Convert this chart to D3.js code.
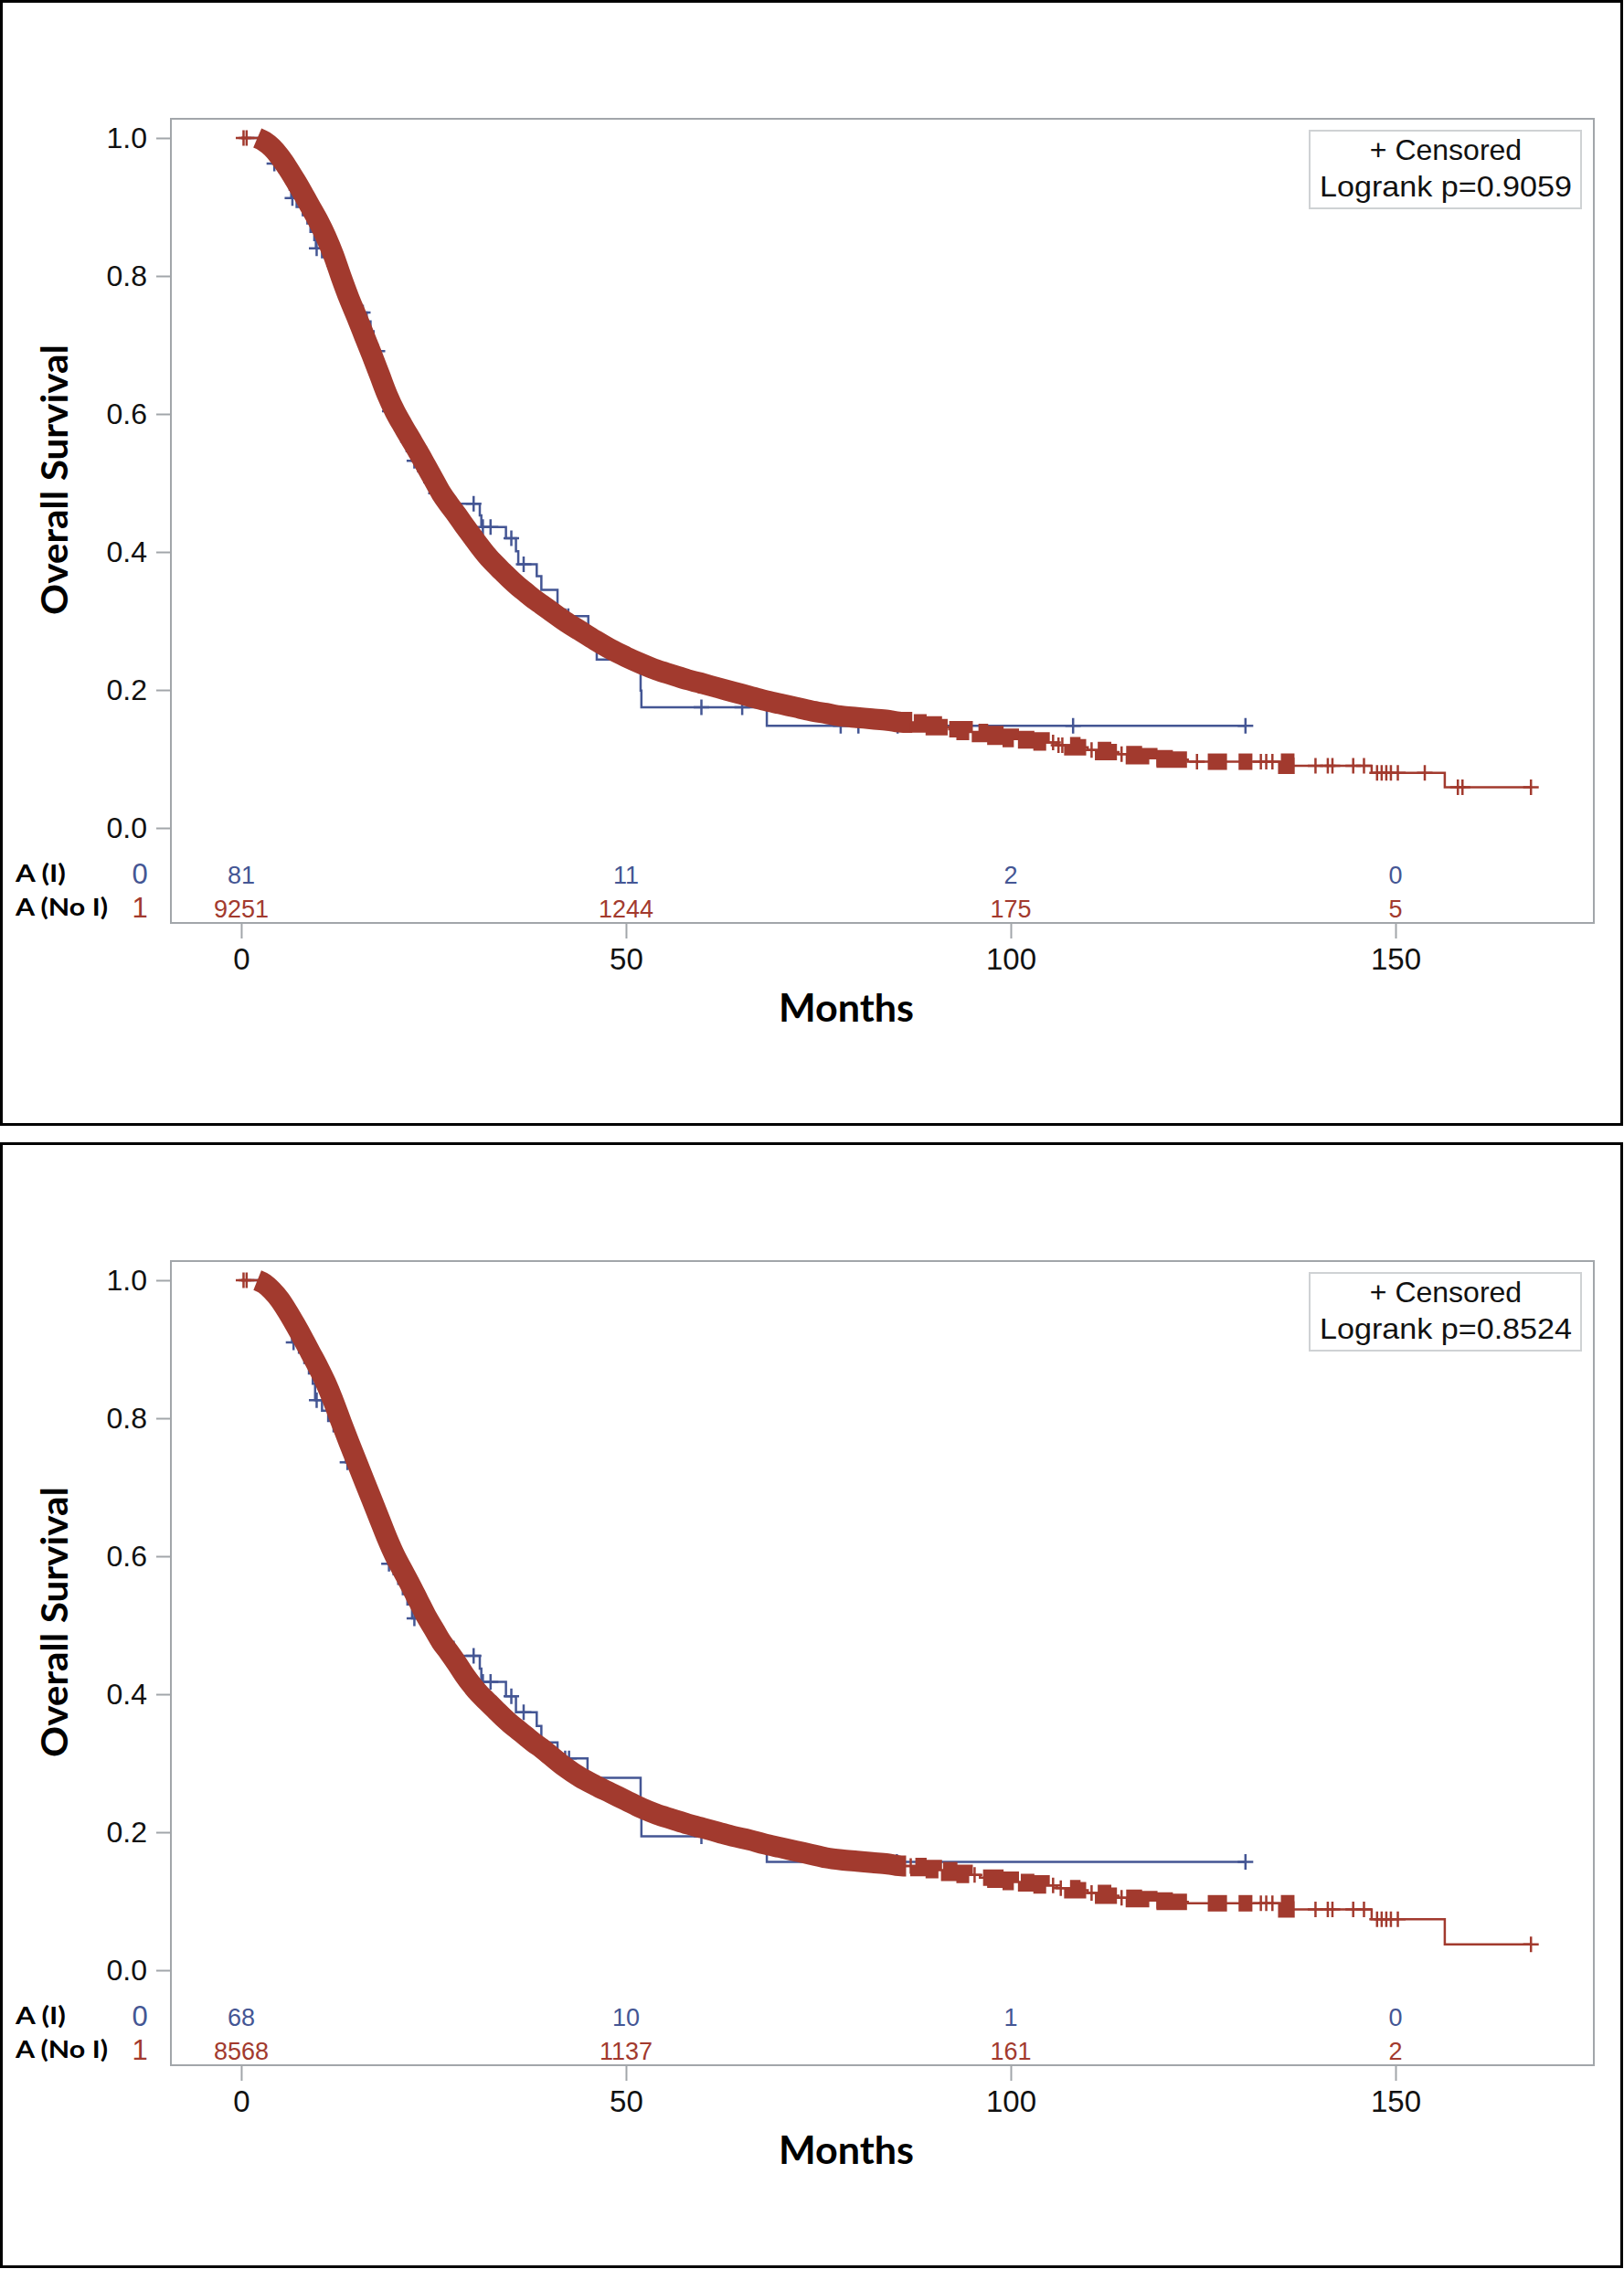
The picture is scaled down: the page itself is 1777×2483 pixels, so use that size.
<!DOCTYPE html>
<html><head><meta charset="utf-8">
<script src="https://cdn.jsdelivr.net/npm/d3@7"></script>
<style>body{margin:0;background:#fff} svg{display:block}</style>
</head><body>
<svg id="chart" width="1777" height="2483"></svg>
<script>
// ---------- shared labels / ticks ----------
const monthTicks = [0, 50, 100, 150];
const survTicks = [0, 0.2, 0.4, 0.6, 0.8, 1.0];
const groupLabels = ["A (I)", "A (No I)"];
const groupCodes = ["0", "1"];
const xTitle = "Months";
const yTitle = "Overall Survival";
const legendLine1 = "+ Censored";

// ---------- panel 1 ----------
const p1BlueTime = [0,3.2,3.8,4.1,5.0,5.8,6.3,6.5,7.2,8.0,8.6,9.0,9.5,9.7,10.5,11.2,11.8,12.5,13.2,13.8,14.5,16.3,16.8,17.2,17.5,18.0,18.4,18.7,19.0,19.1,19.2,19.8,20.3,20.8,21.5,22.2,23.0,23.8,24.8,27.0,31.0,31.2,34.4,35.7,36.0,38.4,39.0,41.1,45.1,46.2,51.9,52.0,68.3];
const p1BlueSurv = [1,0.988,0.975,0.963,0.950,0.938,0.925,0.913,0.900,0.888,0.876,0.864,0.852,0.840,0.827,0.815,0.802,0.789,0.776,0.760,0.747,0.734,0.720,0.705,0.691,0.677,0.662,0.647,0.633,0.618,0.604,0.589,0.575,0.560,0.546,0.532,0.517,0.501,0.485,0.470,0.453,0.436,0.420,0.401,0.382,0.365,0.345,0.307,0.265,0.244,0.199,0.175,0.148];
const p1BlueCensor = [4.3,6.65,9.8,15.8,17.7,19.3,22.5,25.3,30.2,31.4,32.4,35.1,36.7,42.1,42.5,59.8,65.1,77.9,80.2,85.3,108.1,130.5];
const p1BlueEnd = 130.5;
const p1RedTime = [0,2,3,4,5,6,7,8,9,10,11,12,13,14,15,16,17,18,19,20,21,22,23,24,25,26,27,28,29,30,31,32,33,34,35,36,37,38,39,40,42,44,46,48,50,52,54,56,58,60,62,64,66,68,70,72,74,76,78,80,82,84,86,88,90,92,94,96,98,100,102,104,106,108,110,112,114,116,118,120,123,135.8,146.9,156.4];
const p1RedSurv = [1,1,0.995,0.986,0.973,0.957,0.939,0.920,0.900,0.880,0.857,0.830,0.798,0.768,0.741,0.713,0.685,0.656,0.627,0.603,0.583,0.564,0.545,0.525,0.505,0.485,0.469,0.454,0.438,0.423,0.408,0.394,0.382,0.371,0.360,0.350,0.341,0.332,0.324,0.316,0.300,0.286,0.272,0.259,0.248,0.238,0.229,0.222,0.215,0.209,0.203,0.197,0.191,0.185,0.180,0.175,0.170,0.166,0.162,0.160,0.158,0.156,0.153,0.150,0.146,0.143,0.139,0.136,0.132,0.129,0.127,0.124,0.120,0.117,0.113,0.110,0.107,0.104,0.101,0.099,0.096,0.090,0.080,0.059];
const p1RedCensor = [0.3,0.7,105.5,106.2,106.7,110.5,114.4,124.2,132.5,133.2,134.0,139.6,141.2,141.8,144.5,145.9,147.6,148.2,148.8,149.4,150.3,153.8,158.1,158.7,167.6];
const p1RedDenseStart = [2.1,87.4,92.0,95.8,101.0,107.7,111.3,115.0,118.9,125.6,129.6,135.1];
const p1RedDenseEnd   = [87.2,91.8,94.6,100.4,104.6,109.8,113.8,118.0,122.9,128.1,131.4,136.9];
const p1RedEnd = 167.6;
const p1AtRiskI = [81, 11, 2, 0];
const p1AtRiskNoI = [9251, 1244, 175, 5];
const p1Logrank = "Logrank p=0.9059";

// ---------- panel 2 ----------
const p2BlueTime = [0,3.0,4.0,5.0,5.8,6.3,6.6,7.5,8.2,8.8,9.3,9.6,10.5,11.3,12.0,12.8,13.3,13.6,15.0,15.8,16.4,17.0,17.5,17.9,18.3,18.6,18.9,19.1,19.8,20.4,21.0,21.6,22.2,24.0,25.3,27.6,31.0,31.2,34.4,35.7,38.4,39.0,41.1,45.0,51.9,52.0,68.3];
const p2BlueSurv = [1,0.985,0.971,0.956,0.941,0.926,0.910,0.895,0.880,0.865,0.850,0.826,0.811,0.796,0.781,0.766,0.751,0.736,0.721,0.706,0.691,0.676,0.661,0.646,0.632,0.617,0.603,0.589,0.574,0.560,0.545,0.530,0.510,0.493,0.476,0.4556,0.437,0.418,0.397,0.374,0.354,0.330,0.307,0.279,0.222,0.194,0.157];
const p2BlueCensor = [6.8,9.8,13.8,19.2,22.5,30.2,31.4,32.4,35.1,36.7,42.1,42.6,59.8,65.1,78.0,85.2,130.5];
const p2BlueEnd = 130.5;
const p2RedTime = [0,2,3,4,5,6,7,8,9,10,11,12,13,14,15,16,17,18,19,20,21,22,23,24,25,26,27,28,29,30,31,32,33,34,35,36,37,38,39,40,42,44,46,48,50,52,54,56,58,60,62,64,66,68,70,72,74,76,78,80,82,84,86,88,90,92,94,96,98,100,102,104,106,108,110,112,114,116,118,120,123,135.8,146.9,156.4];
const p2RedSurv = [1,1,0.995,0.985,0.972,0.955,0.936,0.916,0.895,0.874,0.851,0.824,0.794,0.765,0.737,0.709,0.681,0.653,0.625,0.600,0.579,0.558,0.536,0.514,0.495,0.476,0.461,0.445,0.428,0.413,0.400,0.389,0.378,0.367,0.357,0.348,0.339,0.330,0.322,0.313,0.295,0.280,0.268,0.257,0.246,0.235,0.226,0.219,0.212,0.206,0.200,0.194,0.189,0.183,0.178,0.173,0.168,0.163,0.160,0.158,0.156,0.154,0.151,0.148,0.145,0.141,0.138,0.134,0.131,0.128,0.126,0.123,0.119,0.116,0.112,0.108,0.105,0.103,0.101,0.099,0.097,0.088,0.074,0.0375];
const p2RedCensor = [0.3,0.7,87.0,95.3,105.5,106.5,110.5,114.4,132.5,133.2,134.0,139.6,141.2,141.8,144.5,145.9,147.6,148.2,148.8,149.4,150.3,167.6];
const p2RedDenseStart = [2.1,87.6,91.2,96.4,101.3,107.7,111.3,115.0,118.9,125.6,129.6,135.1];
const p2RedDenseEnd   = [86.4,90.6,94.6,100.4,104.6,109.8,113.8,118.0,122.9,128.1,131.4,136.9];
const p2RedEnd = 167.6;
const p2AtRiskI = [68, 10, 1, 0];
const p2AtRiskNoI = [8568, 1137, 161, 2];
const p2Logrank = "Logrank p=0.8524";

// ---------- drawing ----------
const BLUE = "#445694", RED = "#A23A2E", FRAME = "#a2a6aa";
const svg = d3.select("#chart");
const x = d3.scaleLinear().domain([-9.14, 175.77]).range([187, 1744]);
const y = d3.scaleLinear().domain([-0.1377, 1.0278]).range([1010, 130]);

function stepFn(times, survs) {
  return t => { let v = survs[0]; for (let i = 0; i < times.length; i++) { if (times[i] <= t) v = survs[i]; else break; } return v; };
}
const stepLine = d3.line().x(d => x(d[0])).y(d => y(d[1])).curve(d3.curveStepAfter);
const smoothLine = d3.line().x(d => x(d[0])).y(d => y(d[1])).curve(d3.curveMonotoneX);
const plusPath = "M-8.5,0H8.5M0,-8.5V8.5";

function drawCurve(g, times, survs, end, censor, color, denseS, denseE) {
  const S = stepFn(times, survs);
  const pts = times.map((t, i) => [t, survs[i]]);
  pts.push([end, S(end)]);
  g.append("path").attr("d", stepLine(pts)).attr("fill", "none")
    .attr("stroke", color).attr("stroke-width", 2.5);
  if (denseS) {
    denseS.forEach((a, k) => {
      const b = denseE[k];
      const seg = [[a, S(a)]];
      times.forEach((t, i) => { if (t > a && t < b) seg.push([t, survs[i]]); });
      seg.push([b, S(b)]);
      const long = (b - a) > 20;
      g.append("path").attr("d", (long ? smoothLine : stepLine)(seg)).attr("fill", "none")
        .attr("stroke", color).attr("stroke-width", long ? 23 : 18)
        .attr("stroke-linecap", "butt").attr("stroke-linejoin", "miter");
    });
  }
  g.selectAll(null).data(censor).enter().append("path")
    .attr("d", plusPath)
    .attr("transform", t => `translate(${x(t)},${y(S(t))})`)
    .attr("fill", "none").attr("stroke", color).attr("stroke-width", 2.5);
}

function drawPanel(off, P) {
  const g = svg.append("g").attr("transform", `translate(0,${off})`);
  g.append("rect").attr("x", 1.5).attr("y", 1.5).attr("width", 1773).attr("height", 1229)
    .attr("fill", "none").attr("stroke", "#000").attr("stroke-width", 3);
  g.append("rect").attr("x", 187).attr("y", 130).attr("width", 1744 - 187).attr("height", 1010 - 130)
    .attr("fill", "none").attr("stroke", FRAME).attr("stroke-width", 2);
  const ya = g.append("g").attr("transform", "translate(187,0)")
    .call(d3.axisLeft(y).tickValues(survTicks).tickFormat(d3.format(".1f")).tickSize(16).tickPadding(10));
  ya.select(".domain").remove();
  ya.selectAll("line").attr("stroke", FRAME).attr("stroke-width", 2);
  ya.selectAll("text").attr("font-family", "Liberation Sans, Arial, sans-serif").attr("font-size", 32).attr("fill", "#111");
  const xa = g.append("g").attr("transform", "translate(0,1010)")
    .call(d3.axisBottom(x).tickValues(monthTicks).tickSize(17).tickPadding(11));
  xa.select(".domain").remove();
  xa.selectAll("line").attr("stroke", FRAME).attr("stroke-width", 2);
  xa.selectAll("text").attr("font-family", "Liberation Sans, Arial, sans-serif").attr("font-size", 33).attr("fill", "#111");
  g.append("text").attr("x", 926).attr("y", 1118).attr("text-anchor", "middle")
    .attr("font-family", "Lato, sans-serif").attr("font-weight", "bold").attr("font-size", 42)
    .attr("textLength", 148).attr("lengthAdjust", "spacingAndGlyphs").text(xTitle);
  g.append("text").attr("transform", "translate(74,525) rotate(-90)").attr("text-anchor", "middle")
    .attr("font-family", "Lato, sans-serif").attr("font-weight", "bold").attr("font-size", 41)
    .attr("textLength", 296).attr("lengthAdjust", "spacingAndGlyphs").text(yTitle);
  const cg = g.append("g");
  drawCurve(cg, P.bt, P.bs, P.bend, P.bc, BLUE, null, null);
  drawCurve(cg, P.rt, P.rs, P.rend, P.rc, RED, P.ds, P.de);
  g.append("rect").attr("x", 1433).attr("y", 143).attr("width", 297).attr("height", 85)
    .attr("fill", "#fff").attr("stroke", "#cfd2d4").attr("stroke-width", 2);
  g.append("text").attr("x", 1582).attr("y", 175).attr("text-anchor", "middle")
    .attr("font-family", "Liberation Sans, Arial, sans-serif").attr("font-size", 32).attr("fill", "#111").text(legendLine1);
  g.append("text").attr("x", 1582).attr("y", 215).attr("text-anchor", "middle")
    .attr("font-family", "Liberation Sans, Arial, sans-serif").attr("font-size", 32).attr("fill", "#111")
    .attr("textLength", 276).attr("lengthAdjust", "spacingAndGlyphs").text(P.lr);
  const rowsY = [965, 1002];
  const colors = [BLUE, RED];
  groupLabels.forEach((lab, i) => {
    g.append("text").attr("x", 17).attr("y", rowsY[i]).attr("font-family", "Lato, sans-serif")
      .attr("font-weight", "bold").attr("font-size", 27).attr("fill", "#000")
      .attr("textLength", i === 0 ? 55 : 101).attr("lengthAdjust", "spacingAndGlyphs").text(lab);
    g.append("text").attr("x", 153).attr("y", rowsY[i] + 2).attr("text-anchor", "middle")
      .attr("font-family", "Liberation Sans, Arial, sans-serif").attr("font-size", 31).attr("fill", colors[i]).text(groupCodes[i]);
  });
  [P.ai, P.an].forEach((vals, i) => {
    g.selectAll(null).data(monthTicks).enter().append("text")
      .attr("x", d => x(d)).attr("y", rowsY[i] + 2).attr("text-anchor", "middle")
      .attr("font-family", "Liberation Sans, Arial, sans-serif").attr("font-size", 27).attr("fill", colors[i])
      .text((d, k) => vals[k]);
  });
}

drawPanel(0, {bt: p1BlueTime, bs: p1BlueSurv, bc: p1BlueCensor, bend: p1BlueEnd,
  rt: p1RedTime, rs: p1RedSurv, rc: p1RedCensor, rend: p1RedEnd, ds: p1RedDenseStart, de: p1RedDenseEnd,
  ai: p1AtRiskI, an: p1AtRiskNoI, lr: p1Logrank});
drawPanel(1250, {bt: p2BlueTime, bs: p2BlueSurv, bc: p2BlueCensor, bend: p2BlueEnd,
  rt: p2RedTime, rs: p2RedSurv, rc: p2RedCensor, rend: p2RedEnd, ds: p2RedDenseStart, de: p2RedDenseEnd,
  ai: p2AtRiskI, an: p2AtRiskNoI, lr: p2Logrank});
</script>
</body></html>
